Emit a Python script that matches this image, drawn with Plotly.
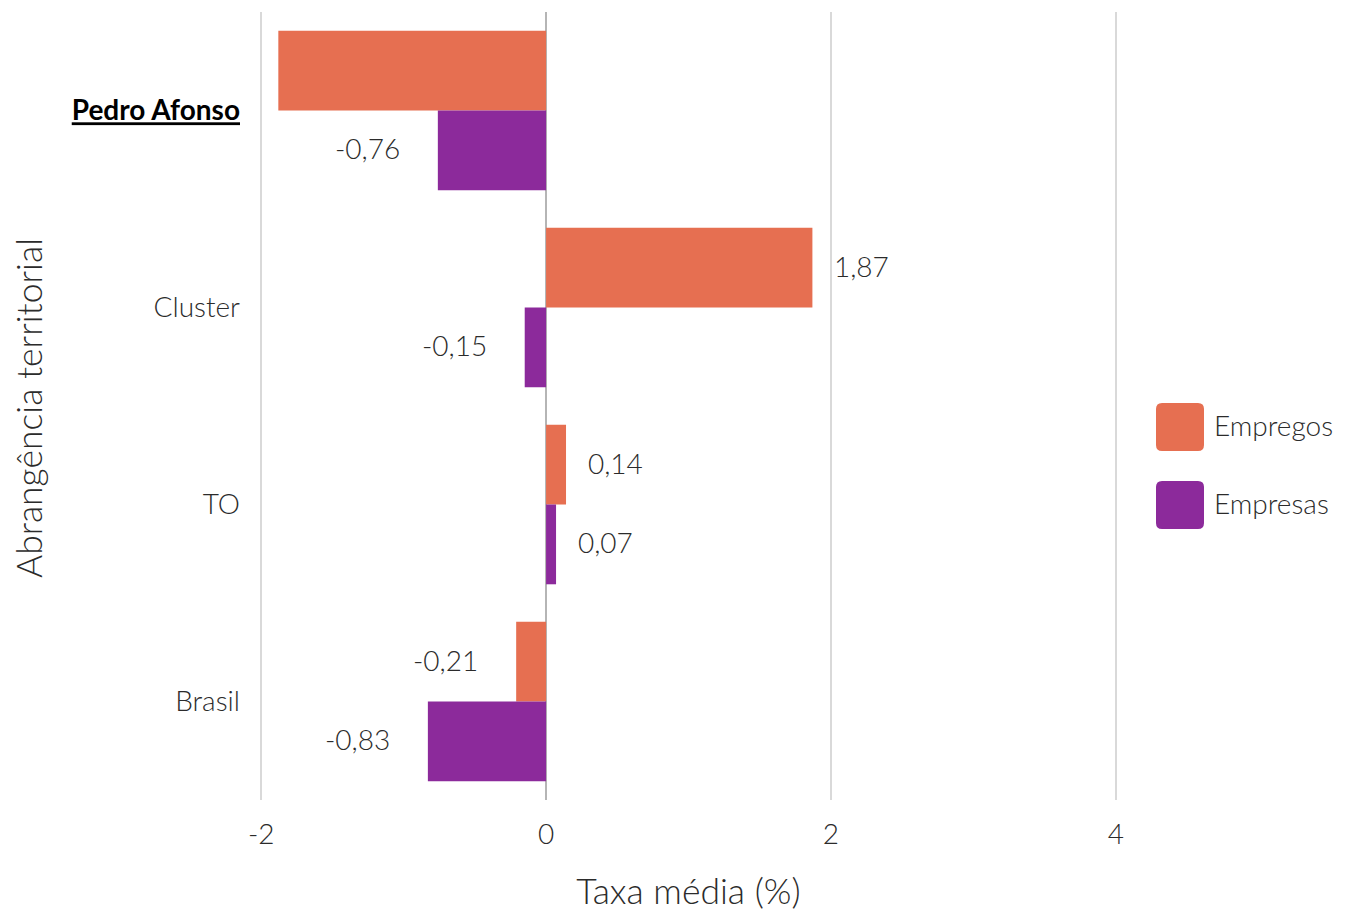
import plotly.graph_objects as go

categories = ["Pedro Afonso", "Cluster", "TO", "Brasil"]
tick_labels = ['<span style="font-family:Lato;font-weight:bold;color:#000000"><u>Pedro Afonso</u></span>',
               "Cluster", "TO", "Brasil"]
empregos = [-1.88, 1.87, 0.14, -0.21]
empresas = [-0.76, -0.15, 0.07, -0.83]
show_label_empregos = [False, True, True, True]
show_label_empresas = [True, True, True, True]
series_names = ["Empregos", "Empresas"]
colors = ["#E66F51", "#8C2A9B"]
x_title = "Taxa média (%)"
y_title = "Abrangência territorial"

FONT = "Lato Light, Lato"
TXT = "#2b2b2b"
SMALL = 28
BIG = 35.5

# page is offset by the browser's 8px body margin
OFF = 8
W, H = 1347 - OFF, 912 - OFF
ml, mr, mt, mb = 247 - OFF, 217, 12 - OFF, 112
pw, ph = W - ml - mr, H - mt - mb

fig = go.Figure()
for name, vals, col in zip(series_names, [empregos, empresas], colors):
    fig.add_trace(go.Bar(
        name=name, y=categories, x=vals, orientation="h",
        marker=dict(color=col, line=dict(width=0)),
        showlegend=False,
    ))

def fmt(v):
    return f"{v:.2f}".replace(".", ",")

bargap = 0.19
half = (1 - bargap) / 4
band_px = ph / 4
annotations = []
for vals, shows, sign in [(empregos, show_label_empregos, -1), (empresas, show_label_empresas, 1)]:
    for cat, v, s in zip(categories, vals, shows):
        if not s:
            continue
        annotations.append(dict(
            x=v, y=cat, xref="x", yref="y", text=fmt(v), showarrow=False,
            xanchor="left" if v >= 0 else "right",
            xshift=20 if v >= 0 else -36,
            yshift=-sign * half * band_px + 2,
            font=dict(family=FONT, size=SMALL, color=TXT, weight=300),
        ))

def tx(p):
    return (p - OFF - ml) / pw

def ty(p):
    return 1 - (p - OFF - mt) / ph

shapes = []
leg_y = [427, 505]
for name, col, yc in zip(series_names, colors, leg_y):
    px0, px1 = 1156, 1204
    py0, py1 = yc - 24, yc + 24
    r = 6
    path = (f"M{tx(px0+r)},{ty(py0)} L{tx(px1-r)},{ty(py0)} Q{tx(px1)},{ty(py0)} {tx(px1)},{ty(py0+r)} "
            f"L{tx(px1)},{ty(py1-r)} Q{tx(px1)},{ty(py1)} {tx(px1-r)},{ty(py1)} "
            f"L{tx(px0+r)},{ty(py1)} Q{tx(px0)},{ty(py1)} {tx(px0)},{ty(py1-r)} "
            f"L{tx(px0)},{ty(py0+r)} Q{tx(px0)},{ty(py0)} {tx(px0+r)},{ty(py0)} Z")
    shapes.append(dict(type="path", xref="paper", yref="paper", path=path,
                       fillcolor=col, line=dict(width=0)))
    annotations.append(dict(x=tx(1212), y=ty(yc - 2), xref="paper", yref="paper",
                            text=name, showarrow=False, xanchor="left", yanchor="middle",
                            font=dict(family=FONT, size=SMALL, color=TXT, weight=300)))

# y-axis title placed as rotated annotation
annotations.append(dict(x=tx(29), y=ty(408), xref="paper", yref="paper",
                        text=y_title, textangle=-90, showarrow=False,
                        xanchor="center", yanchor="middle",
                        font=dict(family=FONT, size=BIG, color=TXT, weight=300)))

fig.update_layout(
    width=W, height=H,
    margin=dict(l=ml, r=mr, t=mt, b=mb),
    barmode="group", bargap=bargap,
    plot_bgcolor="white", paper_bgcolor="white",
    font=dict(family=FONT, size=SMALL, color=TXT, weight=300),
    annotations=annotations, shapes=shapes,
    xaxis=dict(
        range=[-2.1, 4.1], tickvals=[-2, 0, 2, 4], ticktext=["-2", "0", "2", "4"],
        showgrid=True, gridcolor="#d9d9d9", gridwidth=1.5,
        zeroline=True, zerolinecolor="#b5b5b5", zerolinewidth=1.5,
        showline=False, ticks="",
        ticklabelstandoff=15,
        tickfont=dict(family=FONT, size=SMALL, color=TXT, weight=300),
        title=dict(text=x_title, standoff=30,
                   font=dict(family=FONT, size=BIG, color=TXT, weight=300)),
    ),
    yaxis=dict(
        categoryorder="array", categoryarray=categories,
        tickvals=categories, ticktext=tick_labels,
        autorange="reversed",
        showgrid=False, zeroline=False, showline=False, ticks="",
        ticklabelstandoff=6,
        tickfont=dict(family=FONT, size=SMALL, color=TXT, weight=300),
    ),
)

fig.write_html("out.html")
